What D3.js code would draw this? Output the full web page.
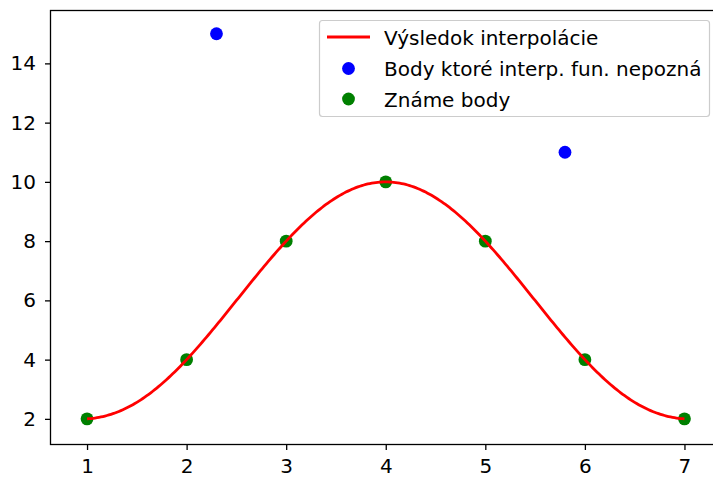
<!DOCTYPE html>
<html>
<head>
<meta charset="utf-8">
<script src="https://cdn.jsdelivr.net/npm/d3@7"></script>
<style>
  html, body { margin: 0; padding: 0; background: #fff; }
  svg { display: block; font-family: "DejaVu Sans", sans-serif; }
</style>
</head>
<body>
<svg id="chart" width="713" height="477"></svg>
<script>
// Known nodes the interpolation passes through
const knownX = [1, 2, 3, 4, 5, 6, 7];
const knownY = [2, 4, 8, 10, 8, 4, 2];

// Points the interpolating function does not know about
const unknownX = [2.3, 5.8];
const unknownY = [15, 11];

const xTicks = [1, 2, 3, 4, 5, 6, 7];
const yTicks = [2, 4, 6, 8, 10, 12, 14];

const legendLabels = ["Výsledok interpolácie", "Body ktoré interp. fun. nepozná", "Známe body"];

const svg = d3.select("#chart");
const plot = { left: 50.5, right: 721, top: 10.5, bottom: 444.5 };
const FONT = 20;

const x = d3.scaleLinear().domain([0.633, 7.367]).range([plot.left, plot.right]);
const y = d3.scaleLinear().domain([1.135, 15.785]).range([plot.bottom, plot.top]);

// Lagrange polynomial through the known nodes
function lagrange(t) {
  let s = 0;
  for (let i = 0; i < knownX.length; i++) {
    let p = knownY[i];
    for (let j = 0; j < knownX.length; j++) {
      if (j !== i) p *= (t - knownX[j]) / (knownX[i] - knownX[j]);
    }
    s += p;
  }
  return s;
}
const xs = d3.range(0, 301).map(i => knownX[0] + (knownX[knownX.length - 1] - knownX[0]) * i / 300);
const curve = xs.map(t => [t, lagrange(t)]);

const g = svg.append("g");

// scatter layers (below the line, as in matplotlib's default z-order)
g.selectAll("circle.unknown").data(unknownX.map((v, i) => [v, unknownY[i]]))
  .enter().append("circle").attr("class", "unknown")
  .attr("cx", d => x(d[0])).attr("cy", d => y(d[1])).attr("r", 6.4)
  .attr("fill", "#0000ff");

g.selectAll("circle.known").data(knownX.map((v, i) => [v, knownY[i]]))
  .enter().append("circle").attr("class", "known")
  .attr("cx", d => x(d[0])).attr("cy", d => y(d[1])).attr("r", 6.4)
  .attr("fill", "#008000");

// interpolated curve
g.append("path").datum(curve)
  .attr("d", d3.line().x(d => x(d[0])).y(d => y(d[1])))
  .attr("fill", "none").attr("stroke", "#ff0000").attr("stroke-width", 2.8)
  .attr("stroke-linecap", "butt");

// axes
const xAxis = d3.axisBottom(x).tickValues(xTicks).tickSize(5.5).tickPadding(9).tickFormat(d3.format("d"));
const yAxis = d3.axisLeft(y).tickValues(yTicks).tickSize(5.5).tickPadding(9).tickFormat(d3.format("d"));

const gx = svg.append("g").attr("transform", `translate(0,${plot.bottom})`).call(xAxis);
const gy = svg.append("g").attr("transform", `translate(${plot.left},0)`).call(yAxis);
[gx, gy].forEach(a => {
  a.select(".domain").remove();
  a.selectAll(".tick line").attr("stroke", "#000").attr("stroke-width", 1.3);
  a.selectAll(".tick text").attr("fill", "#000").attr("font-size", FONT)
    .attr("font-family", "DejaVu Sans, sans-serif");
});

// spines
svg.append("rect")
  .attr("x", plot.left).attr("y", plot.top)
  .attr("width", plot.right - plot.left).attr("height", plot.bottom - plot.top)
  .attr("fill", "none").attr("stroke", "#000").attr("stroke-width", 1.3);

// legend
const lg = svg.append("g");
lg.append("rect").attr("x", 319.5).attr("y", 20.5).attr("width", 390).attr("height", 96)
  .attr("rx", 3).attr("fill", "#fff").attr("fill-opacity", 0.8)
  .attr("stroke", "#cccccc").attr("stroke-width", 1.2);

const rowY = [37, 68.5, 99];
lg.append("line").attr("x1", 327).attr("x2", 370).attr("y1", rowY[0]).attr("y2", rowY[0])
  .attr("stroke", "#ff0000").attr("stroke-width", 2.8);
lg.append("circle").attr("cx", 348.5).attr("cy", rowY[1]).attr("r", 6.4).attr("fill", "#0000ff");
lg.append("circle").attr("cx", 348.5).attr("cy", rowY[2]).attr("r", 6.4).attr("fill", "#008000");

lg.selectAll("text.lab").data(legendLabels).enter().append("text")
  .attr("class", "lab")
  .attr("x", 384).attr("y", (d, i) => rowY[i] + 7.5)
  .attr("font-size", FONT).attr("fill", "#000")
  .text(d => d);
</script>
</body>
</html>
